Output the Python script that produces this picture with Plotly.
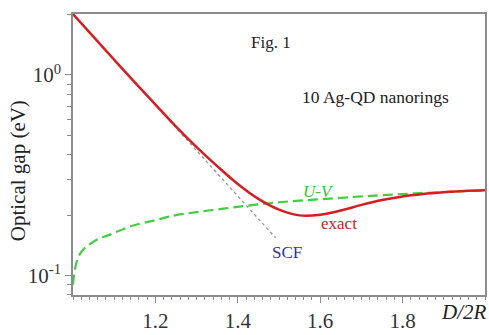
import plotly.graph_objects as go

# ---- data ----
exact_x = [1.0, 1.05, 1.1, 1.15, 1.2, 1.25, 1.3, 1.35, 1.4, 1.45, 1.5, 1.55, 1.6,
           1.65, 1.7, 1.75, 1.8, 1.85, 1.9, 1.95, 2.0]
exact_y = [2.01, 1.549, 1.191, 0.918, 0.712, 0.553, 0.437, 0.351, 0.286, 0.241, 0.213,
           0.1995, 0.201, 0.211, 0.225, 0.238, 0.248, 0.255, 0.260, 0.264, 0.266]

uv_x = [1.0, 1.005, 1.013, 1.025, 1.04, 1.06, 1.09, 1.14, 1.2, 1.25, 1.3, 1.4,
        1.5, 1.6, 1.7, 1.8, 1.9, 2.0]
uv_y = [0.09, 0.108, 0.124, 0.135, 0.143, 0.152, 0.160, 0.176, 0.189, 0.200,
        0.207, 0.220, 0.232, 0.240, 0.248, 0.255, 0.261, 0.266]

scf_x = [1.0, 1.492]
scf_y = [2.01, 0.154]

x_tick_vals = [1.2, 1.4, 1.6, 1.8]
x_tick_text = ["1.2", "1.4", "1.6", "1.8"]
y_tick_vals = [0.1, 1.0]
y_tick_text = ["10<sup>-1</sup>", "10<sup>0</sup>"]
y_minor_vals = [0.08, 0.09, 0.2, 0.3, 0.4, 0.5, 0.6, 0.7, 0.8, 0.9, 2.0]
x_minor_vals = [round(1.0 + 0.02 * i, 2) for i in range(51)]

FONT = "Liberation Serif"
AXC = "#8c8c8c"

fig = go.Figure()
fig.add_trace(go.Scatter(x=scf_x, y=scf_y, mode="lines",
                         line=dict(color="#8f95ad", width=1.3, dash="3px,3px"),
                         hoverinfo="skip", showlegend=False))
fig.add_trace(go.Scatter(x=uv_x, y=uv_y, mode="lines", line_shape="spline",
                         line=dict(color="#3fcf3f", width=2.2, dash="10px,5px"),
                         showlegend=False))
fig.add_trace(go.Scatter(x=exact_x, y=exact_y, mode="lines", line_shape="spline",
                         line=dict(color="#d41e24", width=2.5),
                         showlegend=False))

fig.update_layout(
    width=489, height=335,
    margin=dict(l=73, r=2, t=14, b=31),
    paper_bgcolor="white", plot_bgcolor="white",
    font=dict(family=FONT, color="#222222", size=18),
    xaxis=dict(range=[1.0, 2.0], showgrid=False, zeroline=False,
               showline=True, linecolor=AXC, linewidth=1.5, mirror=True,
               tickmode="array", tickvals=x_tick_vals, ticktext=x_tick_text,
               ticks="outside", ticklen=6, tickwidth=1.2, tickcolor=AXC,
               tickfont=dict(size=21, family=FONT, color="#333333"),
               minor=dict(tickmode="array", tickvals=x_minor_vals, ticks="outside",
                          ticklen=3, tickwidth=1, tickcolor=AXC)),
    yaxis=dict(type="log", range=[-1.097, 0.304], showgrid=False, zeroline=False,
               showline=True, linecolor=AXC, linewidth=1.5, mirror=True,
               tickmode="array", tickvals=y_tick_vals, ticktext=y_tick_text,
               ticks="outside", ticklen=6, tickwidth=1.2, tickcolor=AXC,
               tickfont=dict(size=21, family=FONT, color="#333333"),
               minor=dict(tickmode="array", tickvals=y_minor_vals, ticks="outside",
                          ticklen=4, tickwidth=1, tickcolor=AXC)),
)

ann = [
    dict(text="Fig. 1", x=272, y=43, size=17, color="#222222"),
    dict(text="10 Ag-QD nanorings", x=377, y=100, size=17.5, color="#222222"),
    dict(text="<i>U-V</i>", x=320, y=197, size=17, color="#3cbf3c"),
    dict(text="exact", x=340, y=230, size=17, color="#c8202a"),
    dict(text="SCF", x=288, y=260, size=17, color="#34349c"),
    dict(text="<i>D/2R</i>", x=466, y=322, size=21, color="#222222"),
]
for a in ann:
    fig.add_annotation(text=a["text"], xref="paper", yref="paper",
                       x=(a["x"] - 73) / 414, y=(304 - a["y"]) / 290,
                       xanchor="center", yanchor="middle", showarrow=False,
                       font=dict(size=a["size"], color=a["color"], family=FONT))

fig.add_annotation(text="Optical gap (eV)", xref="paper", yref="paper",
                   x=(18 - 73) / 414, y=(304 - 176) / 290, textangle=-90,
                   xanchor="center", yanchor="middle", showarrow=False,
                   font=dict(size=21, color="#222222", family=FONT))

fig.write_html("out.html")
